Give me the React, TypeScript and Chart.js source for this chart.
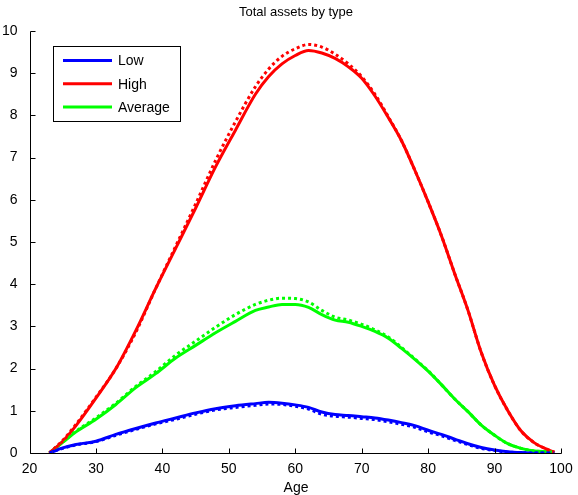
import React, { useEffect, useRef } from "react";
import { Chart, registerables } from "chart.js";

Chart.register(...registerables);

const ages = [23, 25, 27, 30, 33, 36, 39, 42, 45, 48, 51, 54, 56, 58, 60, 62, 64, 66, 68, 70, 72, 74, 76, 78, 80, 82, 84, 86, 88, 90, 92, 94, 96, 98, 99];

const highSolid = [0, 0.28, 0.65, 1.30, 2.00, 2.90, 3.90, 4.85, 5.80, 6.78, 7.65, 8.50, 8.92, 9.22, 9.42, 9.54, 9.48, 9.35, 9.15, 8.88, 8.46, 7.95, 7.40, 6.70, 5.95, 5.15, 4.25, 3.38, 2.38, 1.60, 1.00, 0.52, 0.24, 0.08, 0.02];
const highDotted = [0, 0.30, 0.68, 1.32, 2.00, 2.86, 3.90, 4.90, 5.90, 6.93, 7.85, 8.68, 9.10, 9.40, 9.58, 9.68, 9.62, 9.45, 9.22, 8.92, 8.50, 7.97, 7.40, 6.70, 5.95, 5.15, 4.25, 3.38, 2.38, 1.60, 1.00, 0.52, 0.24, 0.08, 0.02];
const avgSolid = [0, 0.25, 0.50, 0.80, 1.15, 1.55, 1.88, 2.25, 2.55, 2.85, 3.12, 3.38, 3.46, 3.52, 3.52, 3.45, 3.28, 3.15, 3.10, 3.00, 2.88, 2.72, 2.48, 2.22, 1.94, 1.62, 1.28, 0.98, 0.66, 0.42, 0.22, 0.11, 0.05, 0.03, 0.02];
const avgDotted = [0, 0.26, 0.52, 0.83, 1.18, 1.58, 1.93, 2.32, 2.65, 2.98, 3.28, 3.52, 3.62, 3.67, 3.66, 3.58, 3.38, 3.22, 3.15, 3.05, 2.92, 2.75, 2.50, 2.23, 1.95, 1.62, 1.28, 0.98, 0.66, 0.42, 0.22, 0.11, 0.05, 0.03, 0.02];
const lowSolid = [0, 0.12, 0.20, 0.28, 0.44, 0.58, 0.71, 0.83, 0.95, 1.05, 1.12, 1.17, 1.20, 1.18, 1.14, 1.08, 0.97, 0.91, 0.89, 0.86, 0.83, 0.78, 0.72, 0.65, 0.54, 0.44, 0.33, 0.22, 0.13, 0.07, 0.03, 0.01, 0, 0, 0];
const lowDotted = [0, 0.11, 0.19, 0.27, 0.42, 0.56, 0.69, 0.80, 0.92, 1.02, 1.08, 1.13, 1.16, 1.15, 1.11, 1.04, 0.92, 0.87, 0.85, 0.82, 0.79, 0.74, 0.68, 0.61, 0.50, 0.41, 0.30, 0.20, 0.11, 0.06, 0.02, 0.01, 0, 0, 0];

const legendLabels = ["Low", "High", "Average"];
const legendColors = ["#0000ff", "#ff0000", "#00ff00"];
const xTicks = [20, 30, 40, 50, 60, 70, 80, 90, 100];
const yTicks = [0, 1, 2, 3, 4, 5, 6, 7, 8, 9, 10];
const titleText = "Total assets by type";
const xLabel = "Age";

const FONT = "'Liberation Sans', Arial, sans-serif";

const toPts = (vals: number[]) => vals.map((v, i) => ({ x: ages[i], y: v }));

const decor = {
  id: "decor",
  afterDraw(chart: any) {
    const ctx = chart.ctx;
    const xs = chart.scales.x;
    const ys = chart.scales.y;
    const left = Math.round(xs.getPixelForValue(20)) + 0.5;
    const right = Math.round(xs.getPixelForValue(100)) + 0.5;
    const bottom = Math.round(ys.getPixelForValue(0)) + 0.5;
    const top = Math.round(ys.getPixelForValue(10)) + 0.5;
    ctx.save();
    ctx.strokeStyle = "#000";
    ctx.lineWidth = 1;
    ctx.beginPath();
    ctx.moveTo(left, top);
    ctx.lineTo(left, bottom);
    ctx.lineTo(right, bottom);
    ctx.stroke();
    ctx.beginPath();
    xTicks.forEach((t) => {
      const px = Math.round(xs.getPixelForValue(t)) + 0.5;
      ctx.moveTo(px, bottom);
      ctx.lineTo(px, bottom - 5);
    });
    yTicks.forEach((t) => {
      const py = Math.round(ys.getPixelForValue(t)) + 0.5;
      ctx.moveTo(left, py);
      ctx.lineTo(left + 5, py);
    });
    ctx.stroke();

    // title
    ctx.fillStyle = "#000";
    ctx.font = "13px " + FONT;
    ctx.textAlign = "center";
    ctx.textBaseline = "alphabetic";
    ctx.fillText(titleText, (left + right) / 2, 16);

    // x-axis label
    ctx.font = "14px " + FONT;
    ctx.textBaseline = "middle";
    ctx.fillText(xLabel, (left + right) / 2, 488);

    // legend
    const bx = 53.5, by = 46.5, bw = 127, bh = 75;
    ctx.fillStyle = "#fff";
    ctx.fillRect(bx, by, bw, bh);
    ctx.strokeStyle = "#000";
    ctx.lineWidth = 1;
    ctx.strokeRect(bx, by, bw, bh);
    ctx.font = "14px " + FONT;
    ctx.textAlign = "left";
    legendLabels.forEach((lab, i) => {
      const y = 60.5 + i * 23.3;
      ctx.strokeStyle = legendColors[i];
      ctx.lineWidth = 3;
      ctx.beginPath();
      ctx.moveTo(63, y);
      ctx.lineTo(112, y);
      ctx.stroke();
      ctx.fillStyle = "#000";
      ctx.fillText(lab, 118, y + 1);
    });
    ctx.restore();
  },
};

export default function App() {
  const ref = useRef<HTMLCanvasElement>(null);
  useEffect(() => {
    document.body.style.margin = "0";
    const mk = (label: string, data: number[], color: string, dotted: boolean) => ({
      label,
      data: toPts(data),
      borderColor: color,
      backgroundColor: color,
      borderWidth: 3,
      borderDash: dotted ? [3, 3] : [],
      borderCapStyle: "butt",
      pointRadius: 0,
      cubicInterpolationMode: "monotone",
      fill: false,
      order: dotted ? 0 : 1,
    });
    const chart = new Chart(ref.current as HTMLCanvasElement, {
      type: "line",
      data: {
        datasets: [
          mk("Low", lowSolid, legendColors[0], false),
          mk("High", highSolid, legendColors[1], false),
          mk("Average", avgSolid, legendColors[2], false),
          mk("Low (dotted)", lowDotted, legendColors[0], true),
          mk("High (dotted)", highDotted, legendColors[1], true),
          mk("Average (dotted)", avgDotted, legendColors[2], true),
        ],
      },
      options: {
        responsive: false,
        animation: false,
        layout: { padding: { top: 31, right: 17, left: 0, bottom: 0 } },
        plugins: {
          legend: { display: false },
          title: { display: false },
          tooltip: { enabled: false },
        },
        scales: {
          x: {
            type: "linear",
            min: 20,
            max: 100,
            afterBuildTicks: (s: any) => { s.ticks = xTicks.map((v) => ({ value: v })); },
            afterFit: (s: any) => { s.height = 42; },
            grid: { display: false },
            border: { display: false },
            ticks: { color: "#000", font: { family: FONT, size: 14 }, padding: 0, maxRotation: 0 },
          },
          y: {
            type: "linear",
            min: 0,
            max: 10,
            afterBuildTicks: (s: any) => { s.ticks = yTicks.map((v) => ({ value: v })); },
            afterFit: (s: any) => { s.width = 29.5; },
            grid: { display: false },
            border: { display: false },
            ticks: { color: "#000", font: { family: FONT, size: 14 }, padding: 4 },
          },
        },
      },
      plugins: [decor],
    } as any);
    return () => chart.destroy();
  }, []);
  return (
    <div style={{ position: "absolute", left: 0, top: 0, width: 578, height: 495, background: "#fff" }}>
      <canvas ref={ref} width={578} height={495} />
    </div>
  );
}
